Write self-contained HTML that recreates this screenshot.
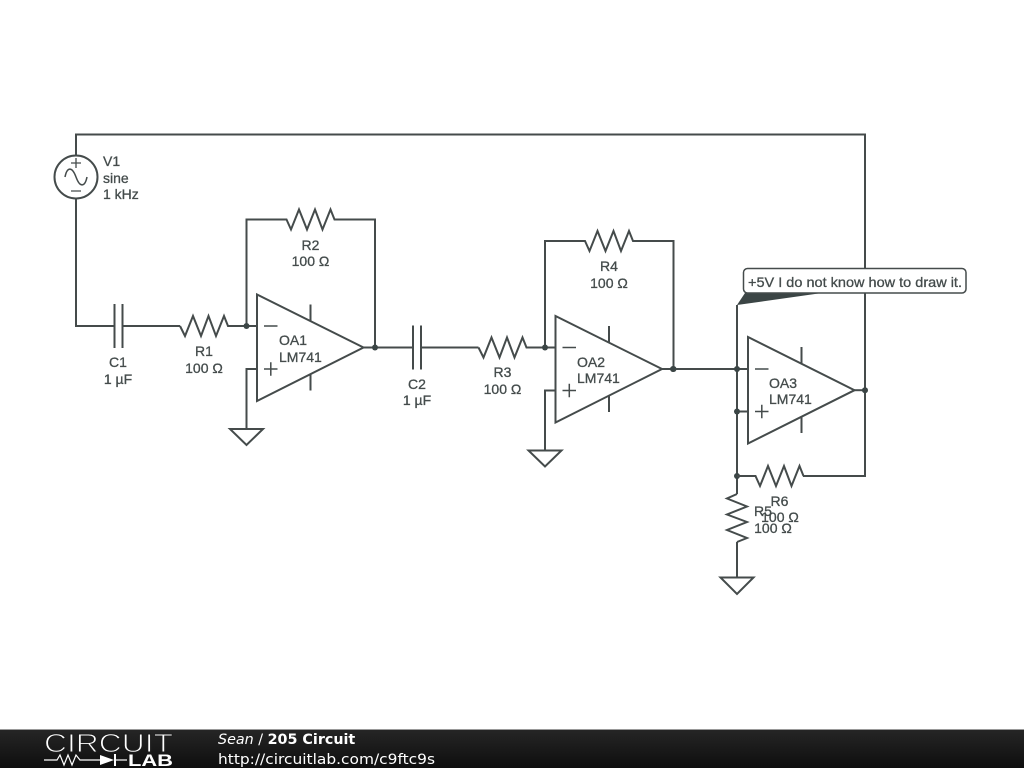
<!DOCTYPE html>
<html><head><meta charset="utf-8"><style>
html,body{margin:0;padding:0;background:#fff;width:1024px;height:768px;overflow:hidden}
svg{display:block}
.w{fill:none;stroke:#444c4c;stroke-width:2;stroke-linejoin:miter}
.t{font-family:"Liberation Sans",sans-serif;font-size:14px;fill:#444c4c;stroke:#444c4c;stroke-width:.3}
.m{text-anchor:middle}
.d{fill:#3a4444}
</style></head><body>
<svg width="1024" height="768" viewBox="0 0 1024 768" xmlns="http://www.w3.org/2000/svg">
<defs>
<linearGradient id="g" x1="0" y1="0" x2="0" y2="1"><stop offset="0" stop-color="#262626"/><stop offset="1" stop-color="#0e0e0e"/></linearGradient>
<filter id="b" x="-5%" y="-5%" width="110%" height="110%"><feGaussianBlur stdDeviation="0.3"/></filter>
</defs>
<g filter="url(#b)">
<!-- outer loop -->
<path class="w" d="M76 156V134.500H865V476H803"/>
<path class="w" d="M76 198V326H114.500"/>
<!-- V1 -->
<circle class="w" cx="76" cy="177" r="21.500"/>
<path class="w" style="stroke-width:1.300" d="M71 163H81M76 158V168M71 191H81"/>
<path class="w" style="stroke-width:1.500" d="M65 177C67 167 72 166 76 177C80 188 85 187 87 177"/>
<text class="t" x="103" y="166">V1</text>
<text class="t" x="103" y="183">sine</text>
<text class="t" x="103" y="199">1 kHz</text>

<!-- Stage 1 -->
<g>
<path class="w" d="M114.500 304V348M122.500 304V348M122.500 326H180"/>
<path class="w" d="M180 326L185 336L193 316L201 336L208.500 316L216 336L224 316L228 326H257"/>
<path class="w" d="M246.500 326V219.500H286.500L291 229.500L299 209.500L307 229.500L315 209.500L322.500 229.500L330.500 209.500L334.500 219.500H375V347.500"/>
<path class="w" d="M257 369H246.500V429"/>
<path class="w" d="M230 429H263L246.500 445Z"/>
<path class="w" d="M257 294.500V401L363.500 347.500Z"/>
<path class="w" d="M310.500 304.500V321M310.500 374V390.500"/>
<path class="w" style="stroke-width:1.500" d="M264 326H277.500M264 369H277.500M270.800 362.300V375.700"/>
<path class="w" d="M363.500 347.500H414"/>
<circle class="d" cx="246.500" cy="326" r="3"/>
<circle class="d" cx="375" cy="347.500" r="3"/>
</g>
<text class="t m" x="118" y="367">C1</text>
<text class="t m" x="118" y="384">1 µF</text>
<text class="t m" x="204" y="356">R1</text>
<text class="t m" x="204" y="373">100 Ω</text>
<text class="t m" x="310.500" y="250">R2</text>
<text class="t m" x="310.500" y="266">100 Ω</text>
<text class="t" x="279" y="345">OA1</text>
<text class="t" x="279" y="362">LM741</text>

<!-- Stage 2 -->
<g transform="translate(298.500 21.500)">
<path class="w" d="M114.500 304V348M122.500 304V348M122.500 326H180"/>
<path class="w" d="M180 326L185 336L193 316L201 336L208.500 316L216 336L224 316L228 326H257"/>
<path class="w" d="M246.500 326V219.500H286.500L291 229.500L299 209.500L307 229.500L315 209.500L322.500 229.500L330.500 209.500L334.500 219.500H375V347.500"/>
<path class="w" d="M257 369H246.500V429"/>
<path class="w" d="M230 429H263L246.500 445Z"/>
<path class="w" d="M257 294.500V401L363.500 347.500Z"/>
<path class="w" d="M310.500 304.500V321M310.500 374V390.500"/>
<path class="w" style="stroke-width:1.500" d="M264 326H277.500M264 369H277.500M270.800 362.300V375.700"/>
<circle class="d" cx="246.500" cy="326" r="3"/>
<circle class="d" cx="375" cy="347.500" r="3"/>
</g>
<text class="t m" x="417" y="389">C2</text>
<text class="t m" x="417" y="405">1 µF</text>
<text class="t m" x="502.500" y="377">R3</text>
<text class="t m" x="502.500" y="394">100 Ω</text>
<text class="t m" x="609" y="271">R4</text>
<text class="t m" x="609" y="288">100 Ω</text>
<text class="t" x="577" y="367">OA2</text>
<text class="t" x="577" y="383">LM741</text>

<!-- Stage 3 -->
<path class="w" d="M662 369H748"/>
<path class="w" d="M737 305V494M737 542V577"/>
<path class="w" d="M737 411.500H748"/>
<path class="w" d="M748 337V443.500L854.500 390.200Z"/>
<path class="w" d="M801.500 347V363M801.500 417V433"/>
<path class="w" style="stroke-width:1.500" d="M755 369H768.500M755 411.500H768.500M761.800 404.800V418.200"/>
<path class="w" d="M854.500 390.200H865"/>
<circle class="d" cx="673" cy="369" r="3"/>
<circle class="d" cx="737" cy="369" r="3"/>
<circle class="d" cx="737" cy="411.500" r="3"/>
<circle class="d" cx="865" cy="390.200" r="3"/>
<circle class="d" cx="737" cy="476" r="3"/>
<path class="w" d="M737 476H755.500L760 486L768 466L776 486L784 466L791.500 486L799.500 466L803.500 476"/>
<path class="w" d="M737 494L727 498.500L747 506.500L727 514.500L747 522L727 530L747 538L737 542"/>
<path class="w" d="M720.500 577.500H753.500L737 594Z"/>
<text class="t m" x="779.500" y="506">R6</text>
<text class="t m" x="780" y="522">100 Ω</text>
<text class="t m" x="763" y="516">R5</text>
<text class="t m" x="773" y="533">100 Ω</text>
<text class="t" x="769" y="388">OA3</text>
<text class="t" x="769" y="404">LM741</text>

<!-- callout -->
<path class="d" d="M737 305L745 293H822Z"/>
<rect x="743.500" y="268.500" width="222.500" height="24.500" rx="4" fill="#fff" stroke="#444c4c" stroke-width="1.500"/>
<text class="t" x="748" y="287" textLength="214" lengthAdjust="spacingAndGlyphs">+5V I do not know how to draw it.</text>
</g>

<!-- footer -->
<rect x="0" y="729" width="1024" height="39" fill="url(#g)"/>
<rect x="0" y="729" width="1024" height="1" fill="#999"/>
<g filter="url(#b)">
<text x="44" y="752" font-family="'Liberation Sans',sans-serif" font-size="26" fill="#fff" stroke="#1e1e1e" stroke-width="1" paint-order="fill stroke" textLength="129" lengthAdjust="spacingAndGlyphs">CIRCUIT</text>
<path d="M44 760H57L60 755L64 765L68 755L72 765L76 755L80 760H100" fill="none" stroke="#fff" stroke-width="1.200"/>
<path d="M100 755V765L114 760Z" fill="#fff"/>
<path d="M115 754V766" stroke="#fff" stroke-width="2"/>
<path d="M114 760H127" stroke="#fff" stroke-width="1.200"/>
<text x="128" y="766" font-family="'Liberation Sans',sans-serif" font-weight="bold" font-size="17" fill="#fff" textLength="45" lengthAdjust="spacingAndGlyphs">LAB</text>
<text x="218" y="744" font-family="'DejaVu Sans',sans-serif" font-size="14.300" fill="#fff"><tspan font-style="italic">Sean</tspan> / <tspan font-weight="bold">205 Circuit</tspan></text>
<text x="218" y="764" font-family="'DejaVu Sans',sans-serif" font-size="14.500" fill="#fff" textLength="217" lengthAdjust="spacingAndGlyphs">http://circuitlab.com/c9ftc9s</text>
</g>
</svg>
</body></html>
